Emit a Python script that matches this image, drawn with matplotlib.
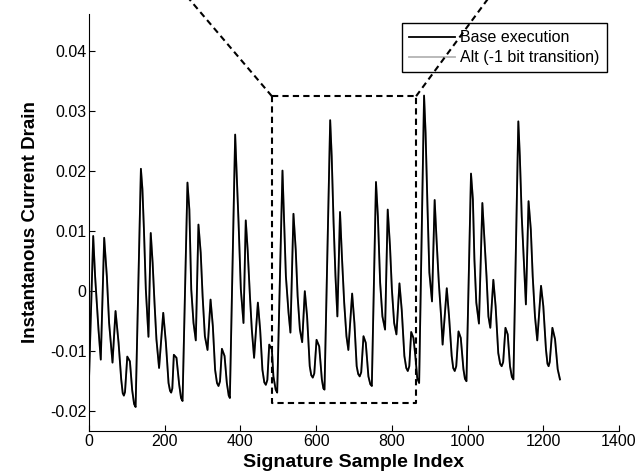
import matplotlib
matplotlib.use("Agg")
import matplotlib.pyplot as plt

# ---- data ----
sample_idx = [
    0, 11, 16, 25, 31, 40, 47, 53, 62, 70, 78, 85, 89, 92, 95, 101, 108, 114, 119, 123,
    137, 141, 145, 150, 157, 163, 168, 173, 178, 185, 196, 203, 210, 214, 217, 220, 224, 231, 238, 243, 247,
    260, 265, 270, 276, 282, 289, 295, 300, 306, 313, 321, 327, 333, 338, 342, 346, 351, 358, 364, 369, 372,
    386, 390, 395, 401, 408, 414, 419, 425, 430, 436, 446, 452, 458, 463, 467, 471, 476, 483, 487, 493, 497,
    511, 515, 520, 527, 532, 540, 546, 551, 557, 563, 570, 576, 583, 587, 591, 595, 601, 608, 615, 619, 622,
    637, 641, 646, 651, 656, 663, 668, 674, 680, 685, 695, 701, 707, 711, 715, 719, 725, 731, 738, 743, 747,
    758, 763, 769, 775, 782, 789, 795, 800, 806, 812, 820, 826, 833, 838, 842, 846, 851, 857, 862, 867, 872,
    885, 889, 894, 899, 906, 913, 918, 924, 930, 934, 945, 951, 958, 962, 966, 970, 976, 982, 989, 993, 997,
    1009, 1014, 1018, 1023, 1030, 1039, 1044, 1050, 1055, 1060, 1068, 1074, 1081, 1086, 1090, 1094, 1100,
    1106, 1112, 1117, 1121,
    1134, 1138, 1143, 1148, 1154, 1161, 1167, 1172, 1178, 1184, 1194, 1200, 1207, 1211, 1214, 1217, 1224,
    1231, 1238, 1244,
]
base_execution = [
    -0.0145, 0.0092, 0.0025, -0.0064, -0.0114, 0.0089, 0.0025, -0.0053, -0.0119, -0.0033,
    -0.0086, -0.0147, -0.0170, -0.0174, -0.0168, -0.0109, -0.0117, -0.0165, -0.0188, -0.0193,
    0.0204, 0.0170, 0.0103, 0.0003, -0.0076, 0.0097, 0.0047, -0.0020, -0.0080, -0.0128,
    -0.0036, -0.0086, -0.0153, -0.0166, -0.0169, -0.0162, -0.0106, -0.0111, -0.0155, -0.0178, -0.0183,
    0.0181, 0.0136, 0.0003, -0.0053, -0.0082, 0.0111, 0.0064, -0.0008, -0.0075, -0.0098,
    -0.0014, -0.0058, -0.0131, -0.0153, -0.0158, -0.0150, -0.0096, -0.0108, -0.0153, -0.0174, -0.0178,
    0.0261, 0.0197, 0.0114, 0.0003, -0.0053, 0.0118, 0.0069, -0.0008, -0.0064, -0.0111,
    -0.0019, -0.0064, -0.0131, -0.0152, -0.0156, -0.0148, -0.0089, -0.0097, -0.0142, -0.0164, -0.0169,
    0.0201, 0.0125, 0.0025, -0.0036, -0.0069, 0.0129, 0.0069, -0.0008, -0.0064, -0.0085,
    0.0000, -0.0042, -0.0125, -0.0140, -0.0144, -0.0137, -0.0081, -0.0092, -0.0147, -0.0162, -0.0164,
    0.0285, 0.0225, 0.0114, 0.0025, -0.0042, 0.0132, 0.0058, -0.0019, -0.0075, -0.0098,
    -0.0004, -0.0053, -0.0125, -0.0138, -0.0142, -0.0135, -0.0075, -0.0086, -0.0142, -0.0155, -0.0158,
    0.0182, 0.0125, 0.0014, -0.0042, -0.0064, 0.0136, 0.0075, 0.0003, -0.0053, -0.0072,
    0.0013, -0.0031, -0.0108, -0.0128, -0.0133, -0.0125, -0.0068, -0.0078, -0.0108, -0.0145, -0.0153,
    0.0326, 0.0264, 0.0142, 0.0031, -0.0017, 0.0152, 0.0086, 0.0014, -0.0042, -0.0089,
    0.0005, -0.0042, -0.0108, -0.0128, -0.0133, -0.0125, -0.0067, -0.0078, -0.0130, -0.0146, -0.0150,
    0.0196, 0.0153, 0.0053, -0.0019, -0.0054, 0.0147, 0.0092, 0.0025, -0.0042, -0.0061,
    0.0019, -0.0025, -0.0103, -0.0121, -0.0125, -0.0118, -0.0061,
    -0.0072, -0.0125, -0.0143, -0.0147,
    0.0283, 0.0225, 0.0125, 0.0058, -0.0022, 0.0150, 0.0103, 0.0025, -0.0042, -0.0082,
    0.0009, -0.0025, -0.0097, -0.0121, -0.0125, -0.0118, -0.0061,
    -0.0080, -0.0130, -0.0147,
]
# the alternative trace lies exactly under the base trace in the reference
alt_transition = list(base_execution)

series_labels = ["Base execution", "Alt (-1 bit transition)"]
x_ticks = [0, 200, 400, 600, 800, 1000, 1200, 1400]
y_ticks = [-0.02, -0.01, 0.0, 0.01, 0.02, 0.03, 0.04]
y_tick_labels = ["-0.02", "-0.01", "0", "0.01", "0.02", "0.03", "0.04"]

# zoom-window annotation (data coordinates)
zoom_x = [483, 864]
zoom_y = [-0.0187, 0.0325]
zoom_lines_top_y = 0.052
zoom_lines_top_x = [220, 1092]

# ---- plot ----
plt.rcParams["font.family"] = ["Liberation Sans", "DejaVu Sans"]
fig = plt.figure(figsize=(6.36, 4.73), dpi=100)
ax = fig.add_axes([0.140, 0.0888, 0.8333, 0.8816])

h_alt, = ax.plot(sample_idx, alt_transition, color="#b4b4b4", lw=1.3,
                 label=series_labels[1], zorder=2)
h_base, = ax.plot(sample_idx, base_execution, color="black", lw=1.3,
                  label=series_labels[0], zorder=3, solid_joinstyle="round")

ax.set_xlim(0, 1400)
ax.set_ylim(-0.0233, 0.0462)
ax.set_xticks(x_ticks)
ax.set_xticklabels([str(t) for t in x_ticks])
ax.set_yticks(y_ticks)
ax.set_yticklabels(y_tick_labels)
ax.tick_params(direction="in", length=4, width=0.8, labelsize=11.5, pad=2)
for s in ["top", "right"]:
    ax.spines[s].set_visible(False)
for s in ["left", "bottom"]:
    ax.spines[s].set_linewidth(0.8)

ax.set_xlabel("Signature Sample Index", fontsize=14, fontweight="bold", labelpad=4)
ax.set_ylabel("Instantanous Current Drain", fontsize=13.5, fontweight="bold", labelpad=8)

leg = ax.legend([h_base, h_alt], series_labels, loc="upper right",
                bbox_to_anchor=(0.977, 0.978), fontsize=11.5,
                frameon=True, fancybox=False, framealpha=1, edgecolor="black",
                handlelength=2.9, handletextpad=0.3, borderpad=0.45, labelspacing=0.3,
                borderaxespad=0)
leg.get_frame().set_linewidth(1.0)
leg.set_zorder(4)

dash = (0, (3, 2))
ax.plot([zoom_x[0], zoom_x[1], zoom_x[1], zoom_x[0], zoom_x[0]],
        [zoom_y[1], zoom_y[1], zoom_y[0], zoom_y[0], zoom_y[1]],
        color="black", lw=1.5, linestyle=dash, zorder=5, clip_on=False)
ax.plot([zoom_x[0], zoom_lines_top_x[0]], [zoom_y[1], zoom_lines_top_y],
        color="black", lw=1.5, linestyle=dash, zorder=5, clip_on=False)
ax.plot([zoom_x[1], zoom_lines_top_x[1]], [zoom_y[1], zoom_lines_top_y],
        color="black", lw=1.5, linestyle=dash, zorder=5, clip_on=False)

fig.savefig("out.png", dpi=100)
